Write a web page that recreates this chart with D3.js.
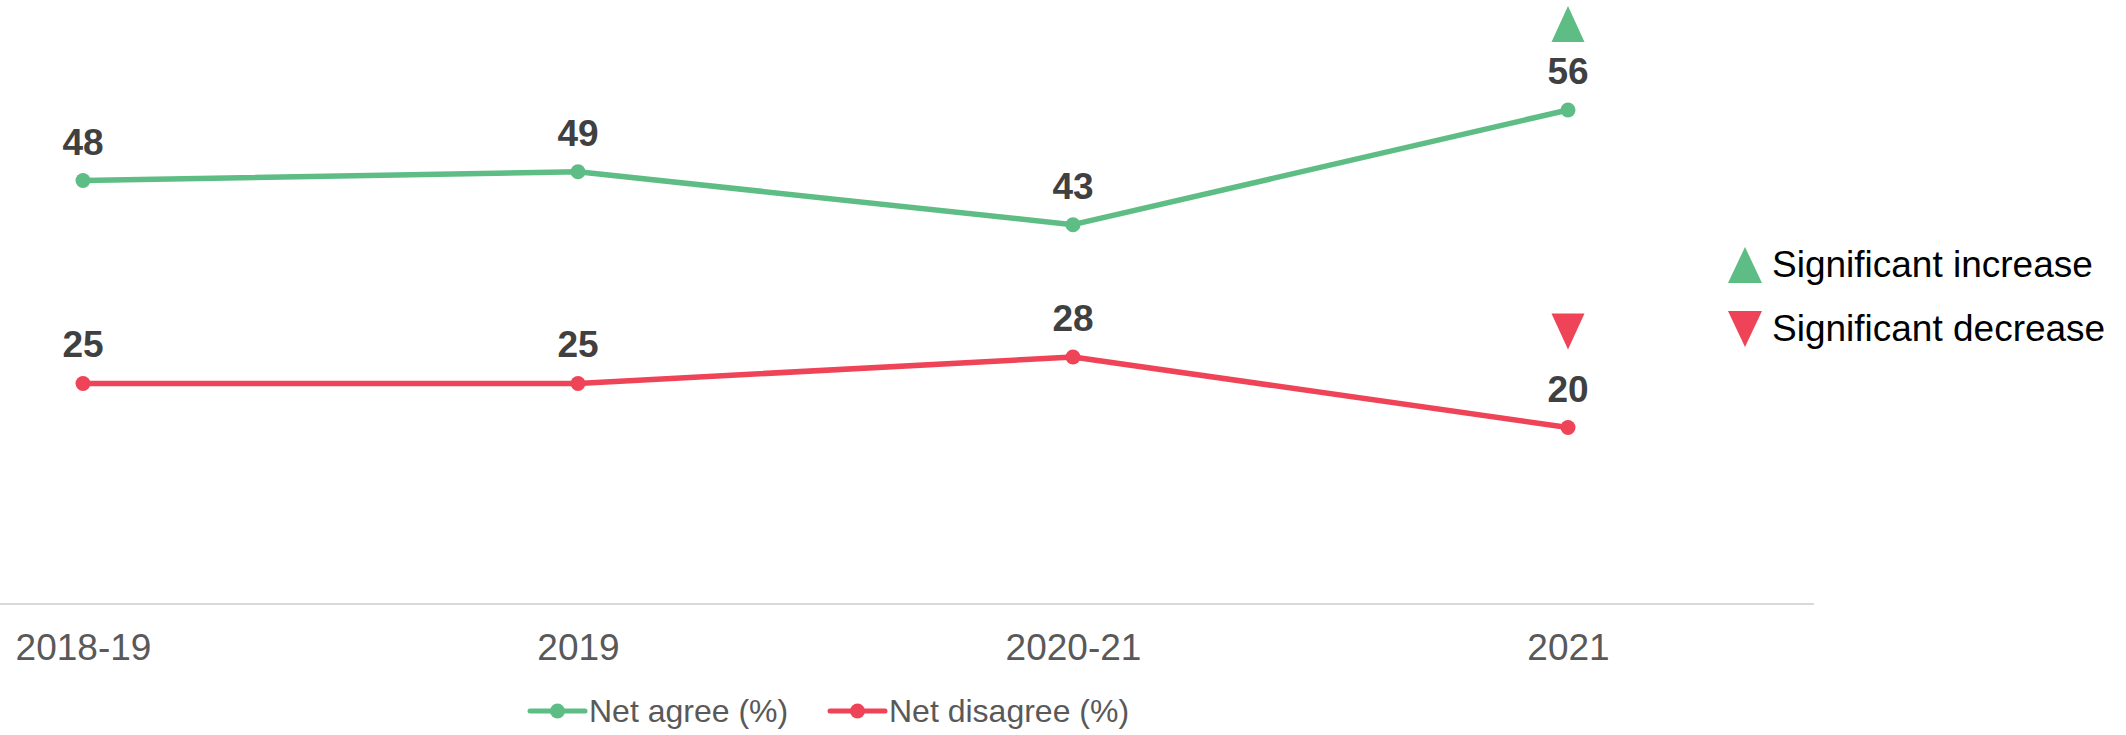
<!DOCTYPE html>
<html>
<head>
<meta charset="utf-8">
<script src="https://cdn.jsdelivr.net/npm/d3@7/dist/d3.min.js"></script>
<style>
  html, body { margin: 0; padding: 0; background: #fff; }
  svg { display: block; font-family: "Liberation Sans", Arial, sans-serif; }
</style>
</head>
<body>
<svg id="chart" width="2126" height="735"></svg>
<script>
const categories = ["2018-19", "2019", "2020-21", "2021"];
const netAgree = [48, 49, 43, 56];
const netDisagree = [25, 25, 28, 20];
const agreeSig = [null, null, null, "up"];
const disagreeSig = [null, null, null, "down"];
const seriesNames = ["Net agree (%)", "Net disagree (%)"];
const sigLegend = ["Significant increase", "Significant decrease"];

const GREEN = "#5ebd84";
const RED = "#ef4357";

const svg = d3.select("#chart");

const x = d3.scalePoint().domain(categories).range([83, 1568]);
const y = d3.scaleLinear().domain([0, 56]).range([604, 110]);

// axis baseline
const xAxis = d3.axisBottom(x).tickSize(0).tickPadding(0);
const gx = svg.append("g").attr("transform", "translate(0,604)").call(xAxis);
gx.select(".domain").remove();
gx.selectAll("text")
  .attr("dy", null)
  .attr("y", 56)
  .attr("fill", "#595959")
  .style("font-size", "37px")
  .style("font-family", "'Liberation Sans', Arial, sans-serif");
svg.append("line")
  .attr("x1", 0).attr("x2", 1814)
  .attr("y1", 604).attr("y2", 604)
  .attr("stroke", "#d9d9d9").attr("stroke-width", 2);

const series = [
  { name: seriesNames[0], values: netAgree, sig: agreeSig, color: GREEN },
  { name: seriesNames[1], values: netDisagree, sig: disagreeSig, color: RED }
];

const line = d3.line()
  .x((d, i) => x(categories[i]))
  .y(d => y(d));

series.forEach(s => {
  svg.append("path")
    .datum(s.values)
    .attr("d", line)
    .attr("fill", "none")
    .attr("stroke", s.color)
    .attr("stroke-width", 5.5)
    .attr("stroke-linejoin", "round");

  svg.append("g").selectAll("circle")
    .data(s.values)
    .join("circle")
    .attr("cx", (d, i) => x(categories[i]))
    .attr("cy", d => y(d))
    .attr("r", 7.5)
    .attr("fill", s.color);

  svg.append("g").selectAll("text")
    .data(s.values)
    .join("text")
    .attr("x", (d, i) => x(categories[i]))
    .attr("y", d => y(d) - 26)
    .attr("text-anchor", "middle")
    .attr("fill", "#404040")
    .style("font-size", "37px")
    .style("font-weight", "bold")
    .text(d => d);

  // significance markers
  svg.append("g").selectAll("path")
    .data(s.values.map((v, i) => ({ v, i, sig: s.sig[i] })).filter(d => d.sig))
    .join("path")
    .attr("d", d => {
      const cx = x(categories[d.i]);
      const w = 33, h = 36;
      if (d.sig === "up") {
        const base = y(d.v) - 68;
        return `M${cx - w / 2},${base}L${cx + w / 2},${base}L${cx},${base - h}Z`;
      } else {
        const top = y(d.v) - 114;
        return `M${cx - w / 2},${top}L${cx + w / 2},${top}L${cx},${top + h}Z`;
      }
    })
    .attr("fill", d => d.sig === "up" ? GREEN : RED);
});

// right legend for significance
const sigItems = [
  { label: sigLegend[0], type: "up", color: GREEN, cy: 265 },
  { label: sigLegend[1], type: "down", color: RED, cy: 329 }
];
const sg = svg.append("g");
sigItems.forEach(it => {
  const cx = 1745, w = 34, h = 36;
  const d = it.type === "up"
    ? `M${cx - w / 2},${it.cy + h / 2}L${cx + w / 2},${it.cy + h / 2}L${cx},${it.cy - h / 2}Z`
    : `M${cx - w / 2},${it.cy - h / 2}L${cx + w / 2},${it.cy - h / 2}L${cx},${it.cy + h / 2}Z`;
  sg.append("path").attr("d", d).attr("fill", it.color);
  sg.append("text")
    .attr("x", 1772)
    .attr("y", it.cy + 12)
    .attr("fill", "#000")
    .style("font-size", "37px")
    .text(it.label);
});

// bottom legend
const legendItems = [
  { label: seriesNames[0], color: GREEN, x0: 530 },
  { label: seriesNames[1], color: RED, x0: 830 }
];
const lg = svg.append("g");
legendItems.forEach(it => {
  lg.append("line")
    .attr("x1", it.x0).attr("x2", it.x0 + 55)
    .attr("y1", 711).attr("y2", 711)
    .attr("stroke", it.color).attr("stroke-width", 5)
    .attr("stroke-linecap", "round");
  lg.append("circle")
    .attr("cx", it.x0 + 27.5).attr("cy", 711).attr("r", 7.5)
    .attr("fill", it.color);
  lg.append("text")
    .attr("x", it.x0 + 59)
    .attr("y", 722)
    .attr("fill", "#595959")
    .style("font-size", "32px")
    .text(it.label);
});
</script>
</body>
</html>
